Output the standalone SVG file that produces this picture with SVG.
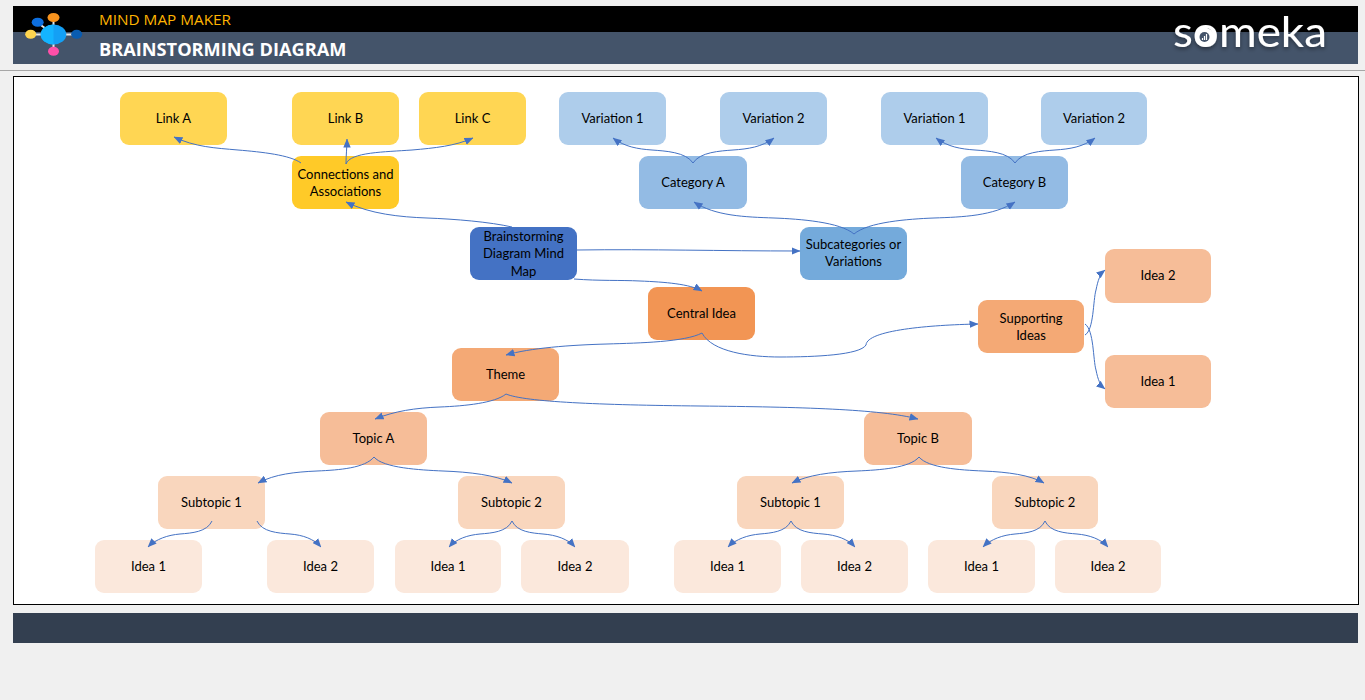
<svg xmlns="http://www.w3.org/2000/svg" width="1365" height="700" viewBox="0 0 1365 700">
<style>
.n{stroke:none}
.t{font-family:"Lato","Liberation Sans",sans-serif;font-size:13px;fill:#000;text-anchor:middle}
.c{fill:none;stroke:#4472c4;stroke-width:1;marker-end:url(#a)}
.h{font-family:"Open Sans","Liberation Sans",sans-serif}
</style>
<defs>
<marker id="a" markerUnits="userSpaceOnUse" markerWidth="9" markerHeight="8" refX="8.500" refY="4" orient="auto"><path d="M0 .3L9 4L0 7.700Z" fill="#4472c4"/></marker>
<filter id="s" x="-10%" y="-20%" width="120%" height="150%"><feDropShadow dx="0" dy="2" stdDeviation="2" flood-color="#000" flood-opacity=".45"/></filter>
</defs>
<rect width="1365" height="700" fill="#f0f0f0"/>
<g id="header">
<rect x="13" y="6" width="1345" height="26" fill="#000"/>
<rect x="13" y="32" width="1345" height="32" fill="#44546a"/>
<g id="logo">
<path d="M53.500 20V48M31 34.500H76M38 23L53 34" stroke="#e6e6e6" stroke-width="2" fill="none"/>
<ellipse cx="53.500" cy="17.500" rx="6" ry="4.500" fill="#f7931e"/>
<ellipse cx="37.700" cy="22.300" rx="6" ry="4.500" fill="#0d6fe0"/>
<ellipse cx="30.700" cy="34.300" rx="5.500" ry="4.500" fill="#ffd54f"/>
<ellipse cx="76.700" cy="34.300" rx="5.500" ry="4.500" fill="#0a5cb0"/>
<ellipse cx="53.500" cy="51.300" rx="5.500" ry="4.500" fill="#ff4fa8"/>
<ellipse cx="53.500" cy="34.500" rx="12.800" ry="10" fill="#14a0f5"/>
<path d="M53.500 24.500A12.800 10 0 0 0 53.500 44.500Z" fill="#14b4ff"/>
</g>
<text class="h" x="99" y="25" font-size="15.300" fill="#ffb400">MIND MAP MAKER</text>
<text class="h" x="99" y="56" font-size="18.200" font-weight="700" fill="#fff">BRAINSTORMING DIAGRAM</text>
<g id="brand" filter="url(#s)">
<text x="1173" y="47" font-family="Lato,'Open Sans',sans-serif" font-size="43" fill="#fff" textLength="154" lengthAdjust="spacingAndGlyphs">someka</text>
<circle cx="1204.500" cy="37" r="9.500" fill="#fff"/>
</g>
<circle cx="1204.500" cy="37" r="5" fill="#44546a"/>
<path d="M1202.500 40V38M1204.500 40V36M1206.500 40V34" stroke="#fff" stroke-width="1.200"/>
</g>
<path d="M0 70.500H1365" stroke="#a6a6a6" stroke-width="1"/>
<rect x="13.500" y="76.500" width="1345" height="528" fill="#fff" stroke="#000"/>
<rect x="13" y="613" width="1345" height="30" fill="#333f50"/>
<g id="n1"><rect class="n" x="120" y="92" width="107" height="53" rx="9" fill="#ffd653"/><text class="t" x="173.500" y="123">Link A</text></g>
<g id="n2"><rect class="n" x="292" y="92" width="107" height="53" rx="9" fill="#ffd653"/><text class="t" x="345.500" y="123">Link B</text></g>
<g id="n3"><rect class="n" x="419" y="92" width="107" height="53" rx="9" fill="#ffd653"/><text class="t" x="472.500" y="123">Link C</text></g>
<g id="n4"><rect class="n" x="559" y="92" width="107" height="53" rx="9" fill="#aecdeb"/><text class="t" x="612.500" y="123">Variation 1</text></g>
<g id="n5"><rect class="n" x="720" y="92" width="107" height="53" rx="9" fill="#aecdeb"/><text class="t" x="773.500" y="123">Variation 2</text></g>
<g id="n6"><rect class="n" x="881" y="92" width="107" height="53" rx="9" fill="#aecdeb"/><text class="t" x="934.500" y="123">Variation 1</text></g>
<g id="n7"><rect class="n" x="1041" y="92" width="106" height="53" rx="9" fill="#aecdeb"/><text class="t" x="1094" y="123">Variation 2</text></g>
<g id="n8"><rect class="n" x="292" y="156" width="107" height="53" rx="9" fill="#ffca28"/><text class="t" x="345.500" y="179">Connections and</text><text class="t" x="345.500" y="196">Associations</text></g>
<g id="n9"><rect class="n" x="639" y="156" width="108" height="53" rx="9" fill="#93bbe4"/><text class="t" x="693" y="187">Category A</text></g>
<g id="n10"><rect class="n" x="961" y="156" width="107" height="53" rx="9" fill="#93bbe4"/><text class="t" x="1014.500" y="187">Category B</text></g>
<g id="n11"><rect class="n" x="470" y="227" width="107" height="53" rx="9" fill="#4472c4"/><text class="t" x="523.500" y="241">Brainstorming</text><text class="t" x="523.500" y="258">Diagram Mind</text><text class="t" x="523.500" y="276">Map</text></g>
<g id="n12"><rect class="n" x="800" y="227" width="107" height="53" rx="9" fill="#74aadb"/><text class="t" x="853.500" y="249">Subcategories or</text><text class="t" x="853.500" y="266">Variations</text></g>
<g id="n13"><rect class="n" x="648" y="287" width="107" height="53" rx="9" fill="#f29554"/><text class="t" x="701.500" y="318">Central Idea</text></g>
<g id="n14"><rect class="n" x="978" y="300" width="106" height="53" rx="9" fill="#f4a975"/><text class="t" x="1031" y="323">Supporting</text><text class="t" x="1031" y="340">Ideas</text></g>
<g id="n15"><rect class="n" x="1105" y="249" width="106" height="54" rx="9" fill="#f6bd98"/><text class="t" x="1158" y="280">Idea 2</text></g>
<g id="n16"><rect class="n" x="1105" y="355" width="106" height="53" rx="9" fill="#f6bd98"/><text class="t" x="1158" y="386">Idea 1</text></g>
<g id="n17"><rect class="n" x="452" y="348" width="107" height="53" rx="9" fill="#f4a975"/><text class="t" x="505.500" y="379">Theme</text></g>
<g id="n18"><rect class="n" x="320" y="412" width="107" height="53" rx="9" fill="#f6bd98"/><text class="t" x="373.500" y="443">Topic A</text></g>
<g id="n19"><rect class="n" x="864" y="412" width="108" height="53" rx="9" fill="#f6bd98"/><text class="t" x="918" y="443">Topic B</text></g>
<g id="n20"><rect class="n" x="158" y="476" width="107" height="53" rx="9" fill="#f9d6bd"/><text class="t" x="211.500" y="507">Subtopic 1</text></g>
<g id="n21"><rect class="n" x="458" y="476" width="107" height="53" rx="9" fill="#f9d6bd"/><text class="t" x="511.500" y="507">Subtopic 2</text></g>
<g id="n22"><rect class="n" x="737" y="476" width="107" height="53" rx="9" fill="#f9d6bd"/><text class="t" x="790.500" y="507">Subtopic 1</text></g>
<g id="n23"><rect class="n" x="992" y="476" width="106" height="53" rx="9" fill="#f9d6bd"/><text class="t" x="1045" y="507">Subtopic 2</text></g>
<g id="n24"><rect class="n" x="95" y="540" width="107" height="53" rx="9" fill="#fbe8dc"/><text class="t" x="148.500" y="571">Idea 1</text></g>
<g id="n25"><rect class="n" x="267" y="540" width="107" height="53" rx="9" fill="#fbe8dc"/><text class="t" x="320.500" y="571">Idea 2</text></g>
<g id="n26"><rect class="n" x="395" y="540" width="106" height="53" rx="9" fill="#fbe8dc"/><text class="t" x="448" y="571">Idea 1</text></g>
<g id="n27"><rect class="n" x="521" y="540" width="108" height="53" rx="9" fill="#fbe8dc"/><text class="t" x="575" y="571">Idea 2</text></g>
<g id="n28"><rect class="n" x="674" y="540" width="107" height="53" rx="9" fill="#fbe8dc"/><text class="t" x="727.500" y="571">Idea 1</text></g>
<g id="n29"><rect class="n" x="801" y="540" width="107" height="53" rx="9" fill="#fbe8dc"/><text class="t" x="854.500" y="571">Idea 2</text></g>
<g id="n30"><rect class="n" x="928" y="540" width="107" height="53" rx="9" fill="#fbe8dc"/><text class="t" x="981.500" y="571">Idea 1</text></g>
<g id="n31"><rect class="n" x="1055" y="540" width="106" height="53" rx="9" fill="#fbe8dc"/><text class="t" x="1108" y="571">Idea 2</text></g>
<g id="connectors">
<path class="c" d="M301 163C290 155 262 152 238 150C215 148 195 147 174 137"/>
<path class="c" d="M346 164C346 155 347 147 347 139"/>
<path class="c" d="M346 164C350 152 385 152 412 150C435 148 455 146 473 138"/>
<path class="c" d="M693 163C686 152 665 151 652 150C638 149 625 147 613 138"/>
<path class="c" d="M693 163C700 152 720 151 733 150C748 149 762 147 774 138"/>
<path class="c" d="M1015 163C1008 152 988 151 975 150C961 149 948 147 936 138"/>
<path class="c" d="M1015 163C1022 152 1042 151 1055 150C1070 149 1083 147 1095 138"/>
<path class="c" d="M512 227C490 222 455 219 427 218C400 217 370 214 346 202"/>
<path class="c" d="M854 234C840 222 800 219 774 218C745 217 715 216 694 202"/>
<path class="c" d="M854 234C868 222 908 219 934 218C963 217 993 216 1015 202"/>
<path class="c" d="M577 250C650 249 720 251 800 251"/>
<path class="c" d="M574 279C600 281 620 280 640 281C665 282 690 284 702 291"/>
<path class="c" d="M702 333C712 352 750 357 780 357C815 357 860 355 866 345C867 330 930 325 978 324"/>
<path class="c" d="M702 333C685 342 640 343 607 344C570 345 530 348 506 355"/>
<path class="c" d="M1085 335C1094 330 1093 300 1096 290C1098 280 1100 274 1105 270"/>
<path class="c" d="M1085 324C1094 330 1093 360 1096 370C1098 380 1100 385 1105 389"/>
<path class="c" d="M506 394C495 403 465 406 440 407C415 408 395 411 375 419"/>
<path class="c" d="M506 394C525 402 600 405 700 406C800 407 880 409 918 419"/>
<path class="c" d="M374 457C365 468 340 470 317 471C295 472 275 474 258 483"/>
<path class="c" d="M374 457C383 468 420 470 443 471C470 472 495 475 512 483"/>
<path class="c" d="M919 457C910 468 880 470 857 471C830 472 808 475 792 483"/>
<path class="c" d="M919 457C928 468 960 470 983 471C1008 472 1030 475 1044 483"/>
<path class="c" d="M212 521C207 532 192 533 180 534C168 535 156 539 148 547"/>
<path class="c" d="M257 521C262 532 278 533 290 534C303 535 314 539 321 547"/>
<path class="c" d="M512 521C507 532 492 533 480 534C468 535 456 539 449 547"/>
<path class="c" d="M512 521C517 532 532 533 543 534C556 535 568 539 575 547"/>
<path class="c" d="M791 521C786 532 771 533 760 534C748 535 736 539 728 547"/>
<path class="c" d="M791 521C796 532 811 533 823 534C836 535 848 539 855 547"/>
<path class="c" d="M1045 521C1040 532 1026 533 1015 534C1003 535 991 539 983 547"/>
<path class="c" d="M1045 521C1050 532 1065 533 1077 534C1089 535 1101 539 1108 547"/>
</g>
</svg>
